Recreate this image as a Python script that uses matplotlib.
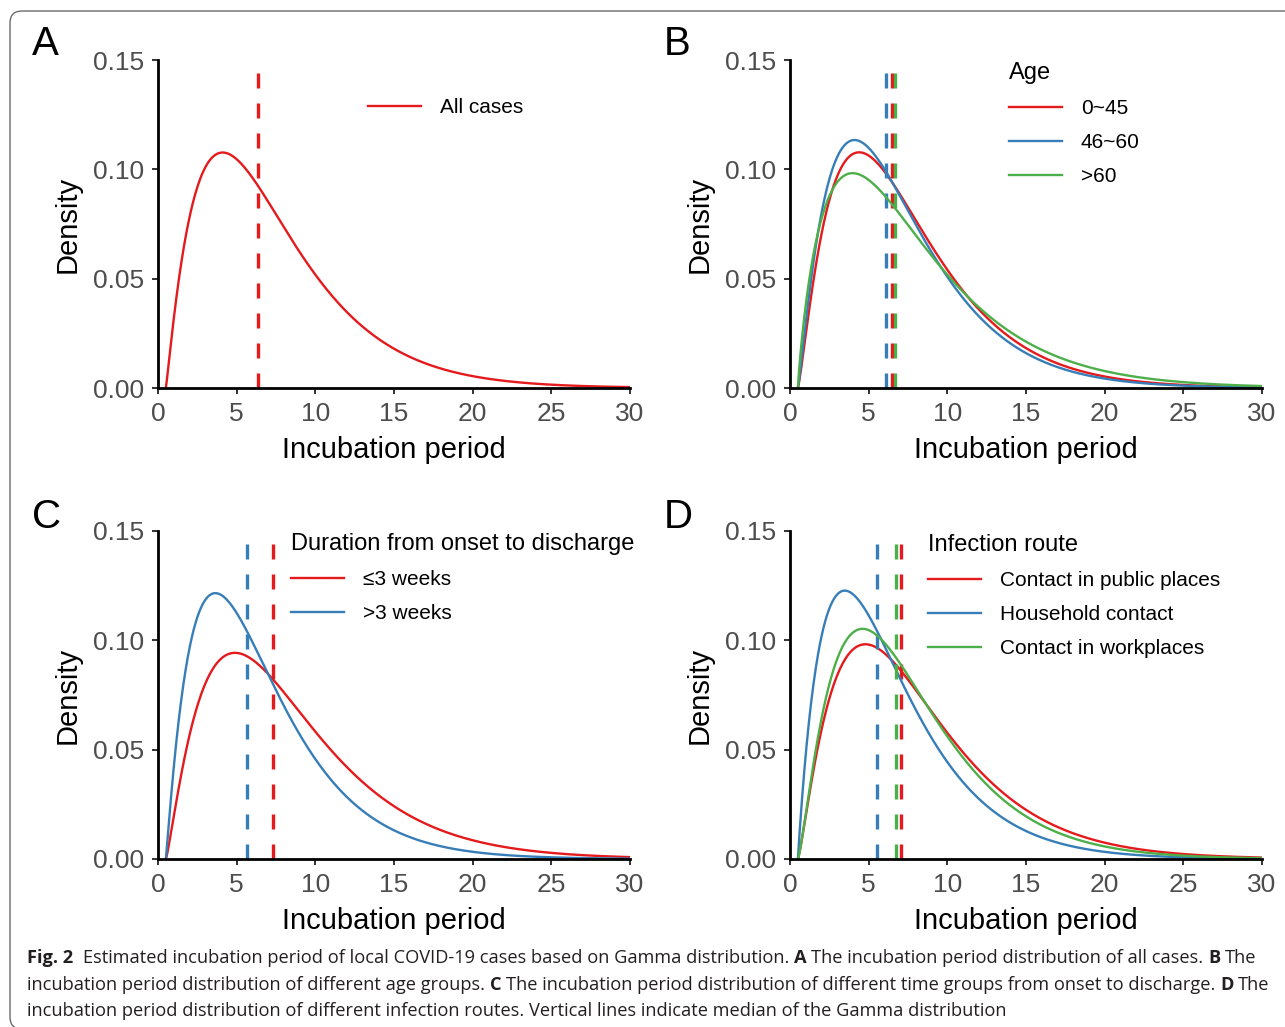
import math
import numpy as np
import matplotlib
matplotlib.use("Agg")
import matplotlib.pyplot as plt
from matplotlib.lines import Line2D
from matplotlib.patches import FancyBboxPatch
from matplotlib.transforms import IdentityTransform

plt.rcParams['font.family'] = ['Liberation Sans', 'DejaVu Sans']

# Gamma fits (curves start at 0.5 day)
shift = 0.5
x_max = 30

a_groups = ['All cases']
a_shape = [2.10]
a_scale = [3.28]
a_median = [6.35]

b_title = 'Age'
b_groups = ['0~45', '46~60', '>60']
b_shape = [2.26, 2.20, 1.88]
b_scale = [3.09, 3.00, 3.95]
b_median = [6.47, 6.13, 6.67]

c_title = 'Duration from onset to discharge'
c_groups = ['\u22643 weeks', '>3 weeks']
c_shape = [2.23, 2.07]
c_scale = [3.57, 2.94]
c_median = [7.30, 5.64]

d_title = 'Infection route'
d_groups = ['Contact in public places', 'Household contact', 'Contact in workplaces']
d_shape = [2.27, 1.99, 2.33]
d_scale = [3.38, 3.01, 3.09]
d_median = [7.07, 5.53, 6.71]

red, blue, green = '#E41A1C', '#377EB8', '#4DAF4A'

caption_lines = [
    [('Fig. 2', 'bold'),
     ('Estimated incubation period of local COVID-19 cases based on Gamma distribution.', 'normal'),
     ('A', 'bold'), ('The incubation period distribution of all cases.', 'normal'),
     ('B', 'bold'), ('The', 'normal')],
    [('incubation period distribution of different age groups.', 'normal'),
     ('C', 'bold'),
     ('The incubation period distribution of different time groups from onset to discharge.', 'normal'),
     ('D', 'bold'), ('The', 'normal')],
    [('incubation period distribution of different infection routes. Vertical lines indicate median of the Gamma distribution', 'normal')],
]
caption_gaps = [[0, 2, 1, 1, 1, 1], [0, 1, 1, 1, 1], [0]]


def gamma_pdf(x, k, theta):
    t = np.clip(x - shift, 0, None)
    return t ** (k - 1) * np.exp(-t / theta) / (math.gamma(k) * theta ** k)


W, H = 1285, 1027
fig = plt.figure(figsize=(W / 100, H / 100), dpi=100)

# outer rounded frame
frame = FancyBboxPatch((10, -2), 1320, 1018, boxstyle='round,pad=0,rounding_size=12',
                       transform=IdentityTransform(), fill=False, ec='#6b6b6b', lw=1.0)
fig.patches.append(frame)

panels = [
    ('A', 158, 60, None, a_groups, a_shape, a_scale, a_median, [red], (368, 98)),
    ('B', 790, 60, b_title, b_groups, b_shape, b_scale, b_median, [red, blue, green], (1009, 62)),
    ('C', 158, 531, c_title, c_groups, c_shape, c_scale, c_median, [red, blue], (291, 533)),
    ('D', 790, 531, d_title, d_groups, d_shape, d_scale, d_median, [red, blue, green], (928, 534)),
]
pw, ph = 472, 328

x = np.linspace(shift, x_max, 800)
for letter, left, top, title, groups, shapes, scales, medians, cols, leg_xy in panels:
    ax = fig.add_axes([left / W, 1 - (top + ph) / H, pw / W, ph / H])
    handles = []
    for g, k, th, m, c in zip(groups, shapes, scales, medians, cols):
        ax.plot(x, gamma_pdf(x, k, th), color=c, lw=1.7, solid_capstyle='butt')
        ax.axvline(m, color=c, lw=2.4, dashes=(4.5, 4.5))
        handles.append(Line2D([], [], color=c, lw=1.7))
    ax.set_xlim(0, 30)
    ax.set_ylim(0, 0.15)
    ax.set_xticks([0, 5, 10, 15, 20, 25, 30])
    ax.set_yticks([0, 0.05, 0.10, 0.15])
    ax.set_yticklabels(['0.00', '0.05', '0.10', '0.15'])
    for s in ['top', 'right']:
        ax.spines[s].set_visible(False)
    for s in ['left', 'bottom']:
        ax.spines[s].set_linewidth(2.0)
        ax.spines[s].set_color('black')
    ax.tick_params(length=4, width=1.4, color='#333333', labelcolor='#4D4D4D',
                   labelsize=19, pad=6)
    ax.set_xlabel('Incubation period', fontsize=21, labelpad=7)
    ax.set_ylabel('Density', fontsize=21, labelpad=8)
    leg = ax.legend(handles, groups, title=title, loc='upper left',
                    bbox_to_anchor=(leg_xy[0] / W, 1 - leg_xy[1] / H),
                    bbox_transform=fig.transFigure, frameon=False, borderpad=0,
                    borderaxespad=0, handlelength=2.55, handletextpad=0.9,
                    labelspacing=0.72, fontsize=15, title_fontsize=17,
                    alignment='left')
    fig.text((left - 126) / W, 1 - 55 / H if top < 100 else 1 - 528 / H, letter,
             fontsize=29, ha='left', va='baseline')

# caption, fitted to the width of the first line
cap_font = ['Open Sans', 'DejaVu Sans']
renderer = fig.canvas.get_renderer()


def text_width(s, size, weight):
    t = fig.text(0, 0, s, fontsize=size, fontweight=weight, family=cap_font)
    w = t.get_window_extent(renderer).width
    t.remove()
    return w


def line_width(parts, gaps, size):
    sp = text_width('a a', size, 'normal') - text_width('aa', size, 'normal')
    return sum(text_width(p, size, wt) + g * sp for (p, wt), g in zip(parts, gaps))


size0 = 10
cap_size = size0 * 1232 / line_width(caption_lines[0], caption_gaps[0], size0)
space = text_width('a a', cap_size, 'normal') - text_width('aa', cap_size, 'normal')
baselines = [963, 990, 1016]
for parts, gaps, yb in zip(caption_lines, caption_gaps, baselines):
    xp = 27
    for (p, wt), g in zip(parts, gaps):
        xp += g * space
        t = fig.text(xp, H - yb, p, fontsize=cap_size, fontweight=wt, family=cap_font,
                     color='#231F20', transform=IdentityTransform(), va='baseline')
        xp += t.get_window_extent(renderer).width

fig.savefig('out.png', dpi=100)
